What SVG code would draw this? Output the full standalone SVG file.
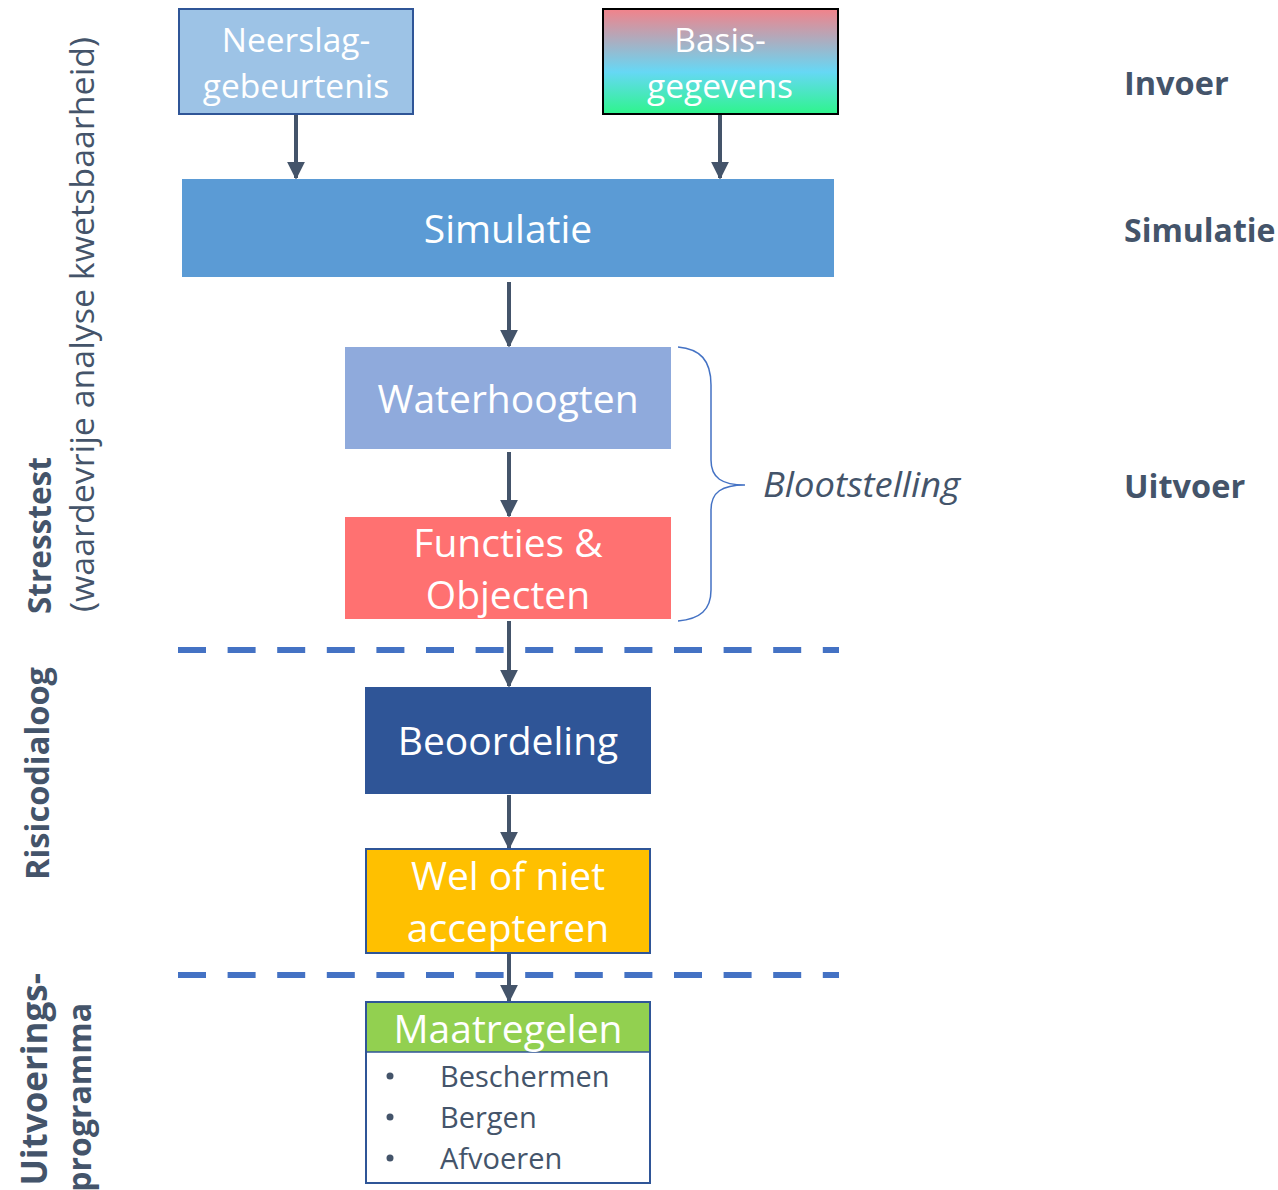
<svg xmlns="http://www.w3.org/2000/svg" width="1278" height="1190" viewBox="0 0 1278 1190">
<style>
  text { font-family: "Open Sans", "Noto Sans", sans-serif; }
  .w { fill: #ffffff; text-anchor: middle; }
  .lab { fill: #44546A; }
  .b { font-weight: bold; }
  .conn { stroke: #44546A; stroke-width: 4; fill: none; marker-end: url(#ah); }
  .dash { stroke: #4472C4; stroke-width: 6; stroke-dasharray: 28 21.6; fill: none; }
</style>
<defs>
  <marker id="ah" viewBox="0 0 10 10" refX="9" refY="5" markerWidth="4.5" markerHeight="4.5" markerUnits="strokeWidth" orient="auto">
    <path d="M0,0 L10,5 L0,10 z" fill="#44546A"/>
  </marker>
  <linearGradient id="grad" x1="0" y1="0" x2="0" y2="1">
    <stop offset="0" stop-color="#F2828A"/>
    <stop offset="0.6" stop-color="#66D8F5"/>
    <stop offset="1" stop-color="#2EF58C"/>
  </linearGradient>
</defs>
<rect width="1278" height="1190" fill="#ffffff"/>

<g id="connectors">
  <line class="conn" x1="296" y1="115" x2="296" y2="178"/>
  <line class="conn" x1="720" y1="115" x2="720" y2="178"/>
  <line class="conn" x1="509" y1="282" x2="509" y2="346"/>
  <line class="conn" x1="509" y1="452" x2="509" y2="516"/>
  <line class="conn" x1="509" y1="621" x2="509" y2="686"/>
  <line class="conn" x1="509" y1="795" x2="509" y2="848"/>
  <line class="conn" x1="509" y1="954" x2="509" y2="1001"/>
</g>

<g id="dividers">
  <line class="dash" x1="178" y1="650" x2="839" y2="650"/>
  <line class="dash" x1="178" y1="975" x2="839" y2="975"/>
</g>

<g id="neerslag">
  <rect x="179" y="9" width="234" height="105" fill="#9DC3E6" stroke="#2F5597" stroke-width="2"/>
  <text class="w" x="296" y="52" font-size="33.5">Neerslag-</text>
  <text class="w" x="296" y="98" font-size="33.5">gebeurtenis</text>
</g>

<g id="basis">
  <rect x="603" y="9" width="235" height="105" fill="url(#grad)" stroke="#000000" stroke-width="2"/>
  <text class="w" x="720" y="52" font-size="33.5">Basis-</text>
  <text class="w" x="720" y="98" font-size="33.5">gegevens</text>
</g>

<g id="simulatie">
  <rect x="182" y="179" width="652" height="98" fill="#5B9BD5"/>
  <text class="w" x="508" y="243" font-size="39">Simulatie</text>
</g>

<g id="waterhoogten">
  <rect x="345" y="347" width="326" height="102" fill="#8FAADC"/>
  <text class="w" x="508" y="413" font-size="39">Waterhoogten</text>
</g>

<g id="functies">
  <rect x="345" y="517" width="326" height="102" fill="#FF7171"/>
  <text class="w" x="508" y="557" font-size="39">Functies &amp;</text>
  <text class="w" x="508" y="609" font-size="39">Objecten</text>
</g>

<g id="beoordeling">
  <rect x="365" y="687" width="286" height="107" fill="#2F5597"/>
  <text class="w" x="508" y="755" font-size="39">Beoordeling</text>
</g>

<g id="accepteren">
  <rect x="366" y="849" width="284" height="104" fill="#FFC000" stroke="#2F5597" stroke-width="2"/>
  <text class="w" x="508" y="890" font-size="39">Wel of niet</text>
  <text class="w" x="508" y="942" font-size="39">accepteren</text>
</g>

<g id="maatregelen">
  <rect x="366" y="1002" width="284" height="181" fill="#ffffff" stroke="#2F5597" stroke-width="2"/>
  <rect x="367" y="1003" width="282" height="49" fill="#92D050"/>
  <line x1="366" y1="1052" x2="650" y2="1052" stroke="#2F5597" stroke-width="1.5"/>
  <text class="w" x="508" y="1043" font-size="39">Maatregelen</text>
  <g class="lab" font-size="29">
    <circle cx="390" cy="1076" r="3.5" fill="#44546A"/>
    <circle cx="390" cy="1117" r="3.5" fill="#44546A"/>
    <circle cx="390" cy="1158" r="3.5" fill="#44546A"/>
    <text x="440" y="1087">Beschermen</text>
    <text x="440" y="1128">Bergen</text>
    <text x="440" y="1169">Afvoeren</text>
  </g>
</g>

<g id="blootstelling">
  <path d="M678,347 C700,349 711,360 711,385 L711,460 C711,478 722,485 745,485 C722,485 711,492 711,510 L711,590 C711,610 700,619 678,621" fill="none" stroke="#4472C4" stroke-width="1.5"/>
  <text class="lab" x="763" y="497" font-size="34" font-style="italic" textLength="197" lengthAdjust="spacingAndGlyphs">Blootstelling</text>
</g>

<g id="right-labels">
  <text class="lab b" x="1124" y="95" font-size="32.5">Invoer</text>
  <text class="lab b" x="1124" y="242" font-size="32">Simulatie</text>
  <text class="lab b" x="1124" y="498" font-size="32.5">Uitvoer</text>
</g>

<g id="left-labels">
  <text class="lab b" font-size="31.5" transform="translate(51,614) rotate(-90)">Stresstest</text>
  <text class="lab" font-size="33" transform="translate(94,612) rotate(-90)" textLength="575" lengthAdjust="spacingAndGlyphs">(waardevrije analyse kwetsbaarheid)</text>
  <text class="lab b" font-size="32.5" transform="translate(49,880) rotate(-90)">Risicodialoog</text>
  <text class="lab b" font-size="35" text-anchor="end" transform="translate(47,973) rotate(-90)">Uitvoerings-</text>
  <text class="lab b" font-size="32" text-anchor="end" transform="translate(91,1003) rotate(-90)">programma</text>
</g>
</svg>
